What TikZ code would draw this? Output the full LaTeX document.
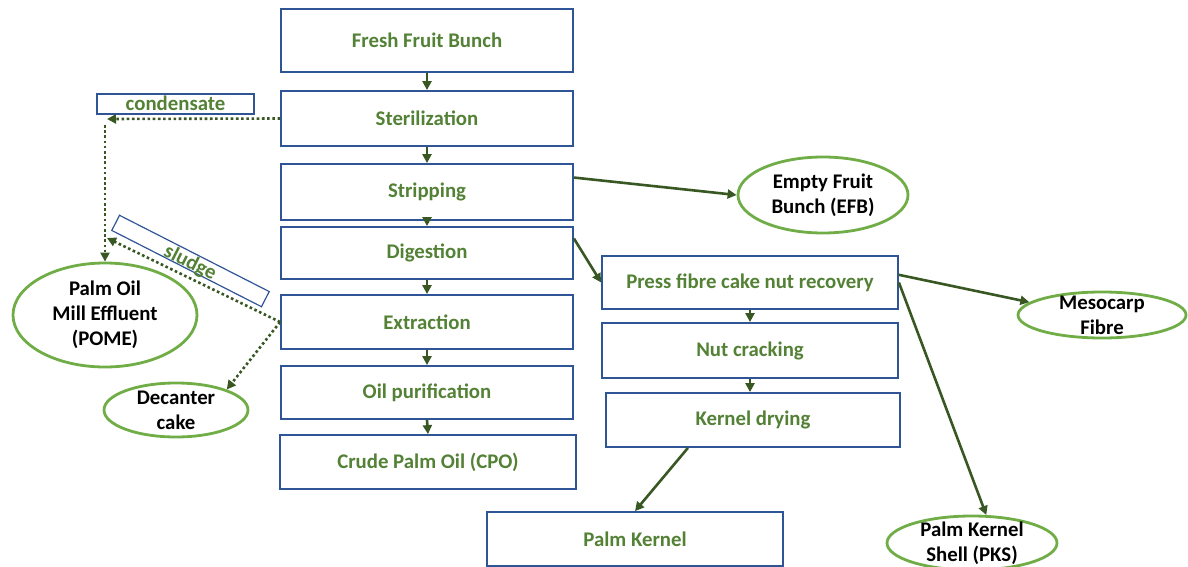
\documentclass[tikz,border=0pt]{standalone}
\usepackage{fontspec}
\setmainfont{Carlito}
\usetikzlibrary{arrows.meta,shapes.geometric,calc}
\definecolor{boxblue}{HTML}{2F5597}
\definecolor{txtgreen}{HTML}{538135}
\definecolor{ellgreen}{HTML}{70AD47}
\definecolor{arrgreen}{HTML}{385723}
\begin{document}
\begin{tikzpicture}[x=1pt,y=-1pt,
  stepbox/.style={draw=boxblue, line width=1.8pt, rectangle, inner sep=0pt,
    font=\fontsize{20.8}{25}\selectfont\bfseries, text=txtgreen},
  outell/.style={draw=ellgreen, line width=2.8pt, ellipse, inner sep=0pt},
  outtxt/.style={font=\fontsize{20.8}{25}\selectfont\bfseries, text=black, align=center, inner sep=0pt},
  tagtxt/.style={font=\fontsize{20.8}{25}\selectfont\bfseries, text=txtgreen, inner sep=0pt},
  flow/.style={draw=arrgreen, line width=2.6pt, -{Triangle[length=9pt,width=9pt]}},
  waste/.style={draw=arrgreen, line width=2.6pt, dash pattern=on 2.6pt off 2.6pt,
    -{Triangle[length=9pt,width=9pt]}}]
\useasboundingbox (0,0) rectangle (1188,567);

% main processing line
\node[stepbox, minimum width=292, minimum height=63] (ffb)   at (427,40.5)  {Fresh Fruit Bunch};
\node[stepbox, minimum width=292, minimum height=55] (ster)  at (427,118.5) {Sterilization};
\node[stepbox, minimum width=292, minimum height=56] (strip) at (427,192)   {Stripping};
\node[stepbox, minimum width=292, minimum height=52] (dig)   at (427,253)   {Digestion};
\node[stepbox, minimum width=292, minimum height=54] (ext)   at (427,322)   {Extraction};
\node[stepbox, minimum width=292, minimum height=53] (oil)   at (427,392.5) {Oil purification};
\node[stepbox, minimum width=296, minimum height=54] (cpo)   at (428,462)   {Crude Palm Oil (CPO)};

% kernel line
\node[stepbox, minimum width=296, minimum height=53] (press) at (750,282.5) {Press fibre cake nut recovery};
\node[stepbox, minimum width=296, minimum height=55] (nut)   at (750,350.5) {Nut cracking};
\node[stepbox, minimum width=294, minimum height=54] (kd)    at (753,420)   {Kernel drying};
\node[stepbox, minimum width=296, minimum height=54] (pk)    at (635,539)   {Palm Kernel};

% by-products
\node[outell, minimum width=170, minimum height=76,
  label={[outtxt]center:Empty Fruit\\Bunch (EFB)}] (efb) at (823,195) {};
\node[outell, minimum width=168, minimum height=46,
  label={[outtxt]center:Mesocarp\\Fibre}] (meso) at (1102,315) {};
\node[outell, minimum width=170, minimum height=54,
  label={[outtxt]center:Palm Kernel\\Shell (PKS)}] (pks) at (972,543) {};
\node[outell, minimum width=184, minimum height=104,
  label={[outtxt]center:Palm Oil\\Mill Effluent\\(POME)}] (pome) at (105,315) {};
\node[outell, minimum width=144, minimum height=54,
  label={[outtxt]center:Decanter\\cake}] (dec) at (176,410) {};

% effluent tags
\node[draw=boxblue, line width=1.2pt, minimum width=157, minimum height=20, inner sep=0pt] (condbox) at (175.5,104) {};
\node[tagtxt] (condlbl) at (175.5,103) {condensate};
\node[draw=boxblue, line width=1.2pt, minimum width=168, minimum height=17, inner sep=0pt, rotate=-27] (sludbox) at (190.5,261) {};
\node[tagtxt, rotate=-27] (sludlbl) at (190,263) {sludge};

% main line arrows
\draw[flow] (ffb.south) -- (ster.north);
\draw[flow] (ster.south) -- (strip.north);
\draw[flow] (strip.south) -- (dig.north);
\draw[flow] (dig.south) -- (ext.north);
\draw[flow] (ext.south) -- (oil.north);
\draw[flow] (oil.south) -- (cpo.north);

% kernel line arrows
\draw[flow] (press.south) -- (nut.north);
\draw[flow] (nut.south) -- (nut.south |- kd.north);
\draw[flow] ($(strip.north east)!0.25!(strip.south east)$) -- (efb.west);
\draw[flow] ($(dig.north east)!0.23!(dig.south east)$) -- (press.west);
\draw[flow] ($(press.north east)!0.36!(press.south east)$) -- (meso.170);
\draw[flow] (press.east) -- (pks.63);
\draw[flow] ($(kd.south west)!0.28!(kd.south east)$) -- (pk.north);

% effluent streams
\coordinate (condtip) at (107,119);
\coordinate (conddrop) at (105,125);
\coordinate (sludtip) at (107,238);
\draw[waste] (ster.west) -- (condtip);
\draw[waste] (conddrop) -- (pome.north);
\draw[waste] (ext.west) -- (sludtip);
\draw[waste] (ext.west) -- (dec.22);
\end{tikzpicture}
\end{document}
